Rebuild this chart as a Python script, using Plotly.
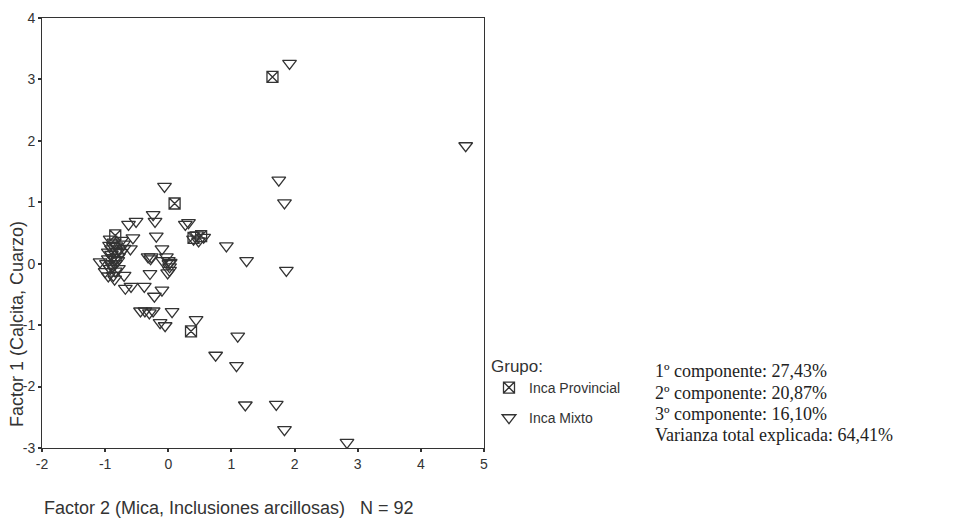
import plotly.graph_objects as go

# Factor scores (Factor 2 on x, Factor 1 on y) for each sherd, by group
provincial_x = [1.65, 0.10, -0.84, 0.40, 0.52, 0.36]
provincial_y = [3.04, 0.98, 0.46, 0.42, 0.45, -1.10]

mixto_x = [
    1.92, 4.71, 1.75, 1.84, -0.06, 0.92, 1.24, 1.87, 1.10, 0.75, 1.08, 1.22, 1.71, 1.84, 2.83, 0.44, 0.06,
    -0.05, -0.13, -0.24, -0.37, -0.44, -0.30, -0.10, -0.22, -0.38, -0.29, -0.27, -0.32, 0.00, 0.02, 0.02,
    -0.03, -0.10, -0.19, -0.24, -0.21, 0.27, 0.32, 0.56, 0.48, 0.45, 0.01,
    -0.59, -0.68, -0.70, -1.00, -1.08, -0.87, -0.92, -0.79, -0.95, -0.90, -0.83, -0.71, -0.60, -0.79,
    -0.84, -0.98, -0.63, -0.51, -0.56, -0.88, -0.86, -0.92, -0.75, -0.95, -0.85, -0.80, -0.90, -0.70,
    -0.88, -0.82, -0.93,
    -0.85, -0.78, -0.95, -0.87, -0.74, -0.01, 0.03, -0.28, -0.09, -0.84, -0.90, 0.40,
]
mixto_y = [
    3.26, 1.92, 1.36, 0.99, 1.26, 0.29, 0.05, -0.11, -1.18, -1.49, -1.66, -2.30, -2.29, -2.70, -2.91, -0.91, -0.78,
    -1.01, -0.96, -0.77, -0.77, -0.77, -0.80, -0.43, -0.53, -0.37, -0.16, 0.11, 0.11, 0.05, -0.05, -0.11,
    0.11, 0.24, 0.45, 0.80, 0.69, 0.64, 0.67, 0.43, 0.37, 0.47, 0.00,
    -0.37, -0.40, -0.19, -0.13, 0.03, -0.19, -0.08, -0.08, 0.19, 0.24, 0.29, 0.32, 0.24, 0.11,
    0.00, 0.00, 0.64, 0.69, 0.42, 0.10, 0.35, 0.40, 0.18, -0.20, -0.25, 0.05, 0.15, 0.25,
    -0.05, 0.20, 0.30,
    0.07, 0.22, 0.08, 0.28, 0.38, -0.15, 0.02, 0.08, 0.05, -0.12, -0.02, 0.40,
]

x_ticks = [-2, -1, 0, 1, 2, 3, 4, 5]
y_ticks = [-3, -2, -1, 0, 1, 2, 3, 4]
x_tick_labels = ["-2", "-1", "0", "1", "2", "3", "4", "5"]
y_tick_labels = ["-3", "-2", "-1", "0", "1", "2", "3", "4"]

variance_lines = [
    "1º componente: 27,43%",
    "2º componente: 20,87%",
    "3º componente: 16,10%",
    "Varianza total explicada: 64,41%",
]

ink = "#333333"
sans = "Liberation Sans, Arial, sans-serif"
serif = "Liberation Serif, Times New Roman, serif"

fig = go.Figure()
fig.add_trace(go.Scatter(
    x=mixto_x, y=mixto_y, mode="markers", name="Inca Mixto", legendgroup="m", legendrank=2,
    marker=dict(symbol="triangle-down-open", size=12, color=ink, line=dict(width=1.3, color=ink)),
))
fig.add_trace(go.Scatter(
    x=provincial_x, y=provincial_y, mode="markers", name="Inca Provincial", legendgroup="p", legendrank=1,
    marker=dict(symbol="square-x-open", size=11, color=ink, line=dict(width=1.3, color=ink)),
))

axis_common = dict(
    showgrid=False, zeroline=False, showline=True, linecolor=ink, linewidth=1, mirror=True,
    ticks="outside", ticklen=3, tickwidth=2, tickcolor=ink,
    tickfont=dict(family=sans, size=14, color="#333"),
)
fig.update_xaxes(range=[-2, 5], tickvals=x_ticks, ticktext=x_tick_labels, **axis_common)
fig.update_yaxes(range=[-3, 4], tickvals=y_ticks, ticktext=y_tick_labels, **axis_common)

fig.add_annotation(
    text="Factor 2 (Mica, Inclusiones arcillosas)&nbsp;&nbsp; N = 92",
    xref="paper", yref="paper", x=0.0, y=-0.14, xanchor="left", yanchor="middle",
    showarrow=False, font=dict(family=sans, size=18, color="#333"),
)
fig.add_annotation(
    text="Factor 1 (Calcita, Cuarzo)", textangle=-90,
    xref="paper", yref="paper", x=-0.057, y=0.288, xanchor="center", yanchor="middle",
    showarrow=False, font=dict(family=sans, size=18, color="#333"),
)

# Explained-variance note, one line per component
line_y = [370, 391.5, 413, 434.5]
for txt, py in zip(variance_lines, line_y):
    fig.add_annotation(
        text=txt, align="left",
        xref="paper", yref="paper", x=(653 - 42) / 442, y=(448 - py) / 438,
        xanchor="left", yanchor="middle",
        showarrow=False, font=dict(family=serif, size=18, color="#222"),
    )

fig.update_layout(
    width=956, height=528,
    margin=dict(l=42, r=472, t=10, b=80),
    paper_bgcolor="white", plot_bgcolor="white",
    showlegend=True,
    legend=dict(
        x=(489 - 42) / 442, y=(448 - 348) / 438, xanchor="left", yanchor="top",
        title=dict(text="Grupo:", font=dict(family=sans, size=17, color="#333")),
        font=dict(family=sans, size=14, color="#333"),
        traceorder="grouped", tracegroupgap=9,
        bgcolor="rgba(0,0,0,0)",
    ),
)

fig.write_html("out.html")
